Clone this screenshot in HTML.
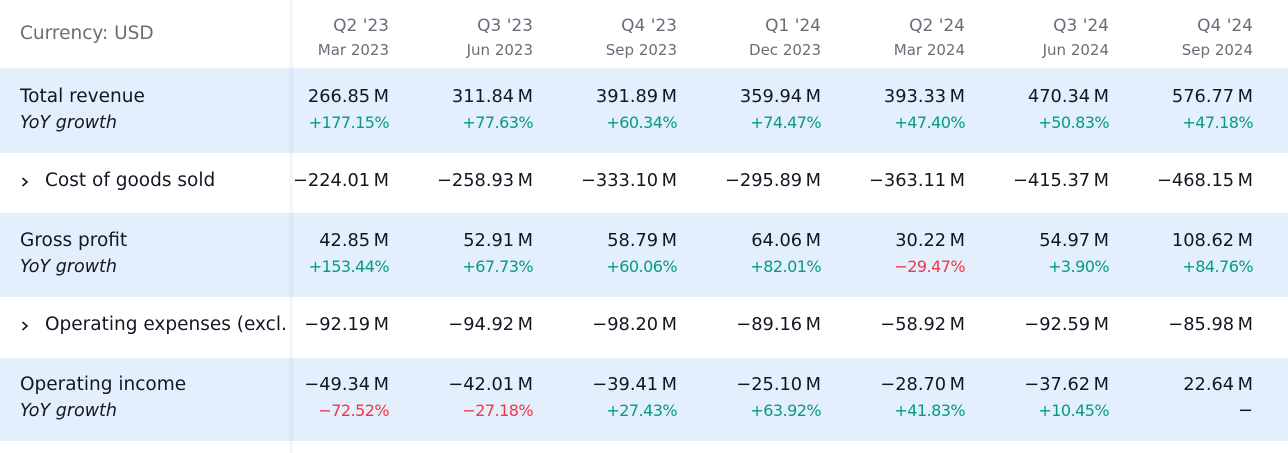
<!DOCTYPE html>
<html><head><meta charset="utf-8">
<style>
html,body{margin:0;padding:0;background:#fff;}
body{width:1288px;height:453px;position:relative;overflow:hidden;font-family:"DejaVu Sans","Liberation Sans",sans-serif;color:#131722;}
.band{position:absolute;left:0;width:1288px;background:#e3effd;}
.t{position:absolute;font-size:18.5px;line-height:20px;white-space:nowrap;}
.ti{position:absolute;font-size:17.5px;line-height:20px;white-space:nowrap;font-style:italic;}
.h{position:absolute;font-size:17px;line-height:20px;white-space:nowrap;color:#6a6d78;text-align:right;width:140px;}
.d{position:absolute;font-size:15px;line-height:18px;white-space:nowrap;color:#6a6d78;text-align:right;width:140px;}
.v{position:absolute;font-size:17.8px;line-height:20px;white-space:nowrap;text-align:right;width:140px;color:#131722;}
.p{position:absolute;font-size:16px;line-height:20px;white-space:nowrap;text-align:right;width:140px;color:#131722;letter-spacing:-0.55px;}
.g{color:#089981;}
.r{color:#f23645;}
.lab{position:absolute;left:0;width:288px;overflow:hidden;}
.chev{position:absolute;}
</style></head><body>
<div style="position:absolute;left:0;top:68px;width:1288px;height:1px;background:#f0f3fa"></div>
<div class="band" style="top:69px;height:84px"></div>
<div class="band" style="top:213px;height:84px"></div>
<div class="band" style="top:358px;height:83px"></div>
<div style="position:absolute;left:288px;top:0;width:6px;height:453px;background:linear-gradient(to right,rgba(0,0,0,0) 0%,rgba(40,60,120,0.045) 35%,rgba(40,60,120,0.045) 70%,rgba(0,0,0,0) 100%)"></div>

<div class="lab" style="top:0;height:453px">
<div class="t" style="left:20px;top:24px;color:#6a6d78">Currency: USD</div>
<div class="t" style="left:20px;top:87px">Total revenue</div>
<div class="ti" style="left:20px;top:113px">YoY growth</div>
<svg class="chev" style="left:21px;top:176px" width="8" height="12"><polyline points="1.5,2 6,6 1.5,10" fill="none" stroke="#131722" stroke-width="1.6"/></svg>
<div class="t" style="left:45px;top:171px">Cost of goods sold</div>
<div class="t" style="left:20px;top:231px">Gross profit</div>
<div class="ti" style="left:20px;top:257px">YoY growth</div>
<svg class="chev" style="left:21px;top:320px" width="8" height="12"><polyline points="1.5,2 6,6 1.5,10" fill="none" stroke="#131722" stroke-width="1.6"/></svg>
<div class="t" style="left:45px;top:315px">Operating expenses (excl. interest)</div>
<div class="t" style="left:20px;top:375px">Operating income</div>
<div class="ti" style="left:20px;top:401px">YoY growth</div>
</div>

<!-- headers -->
<div class="h" style="left:249px;top:16px">Q2 '23</div><div class="d" style="left:249px;top:41px">Mar 2023</div>
<div class="h" style="left:393px;top:16px">Q3 '23</div><div class="d" style="left:393px;top:41px">Jun 2023</div>
<div class="h" style="left:537px;top:16px">Q4 '23</div><div class="d" style="left:537px;top:41px">Sep 2023</div>
<div class="h" style="left:681px;top:16px">Q1 '24</div><div class="d" style="left:681px;top:41px">Dec 2023</div>
<div class="h" style="left:825px;top:16px">Q2 '24</div><div class="d" style="left:825px;top:41px">Mar 2024</div>
<div class="h" style="left:969px;top:16px">Q3 '24</div><div class="d" style="left:969px;top:41px">Jun 2024</div>
<div class="h" style="left:1113px;top:16px">Q4 '24</div><div class="d" style="left:1113px;top:41px">Sep 2024</div>

<!-- Total revenue -->
<div class="v" style="left:249px;top:87px">266.85&#8201;M</div>
<div class="v" style="left:393px;top:87px">311.84&#8201;M</div>
<div class="v" style="left:537px;top:87px">391.89&#8201;M</div>
<div class="v" style="left:681px;top:87px">359.94&#8201;M</div>
<div class="v" style="left:825px;top:87px">393.33&#8201;M</div>
<div class="v" style="left:969px;top:87px">470.34&#8201;M</div>
<div class="v" style="left:1113px;top:87px">576.77&#8201;M</div>
<div class="p g" style="left:249px;top:113px">+177.15%</div>
<div class="p g" style="left:393px;top:113px">+77.63%</div>
<div class="p g" style="left:537px;top:113px">+60.34%</div>
<div class="p g" style="left:681px;top:113px">+74.47%</div>
<div class="p g" style="left:825px;top:113px">+47.40%</div>
<div class="p g" style="left:969px;top:113px">+50.83%</div>
<div class="p g" style="left:1113px;top:113px">+47.18%</div>

<!-- COGS -->
<div class="v" style="left:249px;top:171px">−224.01&#8201;M</div>
<div class="v" style="left:393px;top:171px">−258.93&#8201;M</div>
<div class="v" style="left:537px;top:171px">−333.10&#8201;M</div>
<div class="v" style="left:681px;top:171px">−295.89&#8201;M</div>
<div class="v" style="left:825px;top:171px">−363.11&#8201;M</div>
<div class="v" style="left:969px;top:171px">−415.37&#8201;M</div>
<div class="v" style="left:1113px;top:171px">−468.15&#8201;M</div>

<!-- Gross profit -->
<div class="v" style="left:249px;top:231px">42.85&#8201;M</div>
<div class="v" style="left:393px;top:231px">52.91&#8201;M</div>
<div class="v" style="left:537px;top:231px">58.79&#8201;M</div>
<div class="v" style="left:681px;top:231px">64.06&#8201;M</div>
<div class="v" style="left:825px;top:231px">30.22&#8201;M</div>
<div class="v" style="left:969px;top:231px">54.97&#8201;M</div>
<div class="v" style="left:1113px;top:231px">108.62&#8201;M</div>
<div class="p g" style="left:249px;top:257px">+153.44%</div>
<div class="p g" style="left:393px;top:257px">+67.73%</div>
<div class="p g" style="left:537px;top:257px">+60.06%</div>
<div class="p g" style="left:681px;top:257px">+82.01%</div>
<div class="p r" style="left:825px;top:257px">−29.47%</div>
<div class="p g" style="left:969px;top:257px">+3.90%</div>
<div class="p g" style="left:1113px;top:257px">+84.76%</div>

<!-- Opex -->
<div class="v" style="left:249px;top:315px">−92.19&#8201;M</div>
<div class="v" style="left:393px;top:315px">−94.92&#8201;M</div>
<div class="v" style="left:537px;top:315px">−98.20&#8201;M</div>
<div class="v" style="left:681px;top:315px">−89.16&#8201;M</div>
<div class="v" style="left:825px;top:315px">−58.92&#8201;M</div>
<div class="v" style="left:969px;top:315px">−92.59&#8201;M</div>
<div class="v" style="left:1113px;top:315px">−85.98&#8201;M</div>

<!-- Operating income -->
<div class="v" style="left:249px;top:375px">−49.34&#8201;M</div>
<div class="v" style="left:393px;top:375px">−42.01&#8201;M</div>
<div class="v" style="left:537px;top:375px">−39.41&#8201;M</div>
<div class="v" style="left:681px;top:375px">−25.10&#8201;M</div>
<div class="v" style="left:825px;top:375px">−28.70&#8201;M</div>
<div class="v" style="left:969px;top:375px">−37.62&#8201;M</div>
<div class="v" style="left:1113px;top:375px">22.64&#8201;M</div>
<div class="p r" style="left:249px;top:401px">−72.52%</div>
<div class="p r" style="left:393px;top:401px">−27.18%</div>
<div class="p g" style="left:537px;top:401px">+27.43%</div>
<div class="p g" style="left:681px;top:401px">+63.92%</div>
<div class="p g" style="left:825px;top:401px">+41.83%</div>
<div class="p g" style="left:969px;top:401px">+10.45%</div>
<div class="v" style="left:1113px;top:401px">−</div>
</body></html>
